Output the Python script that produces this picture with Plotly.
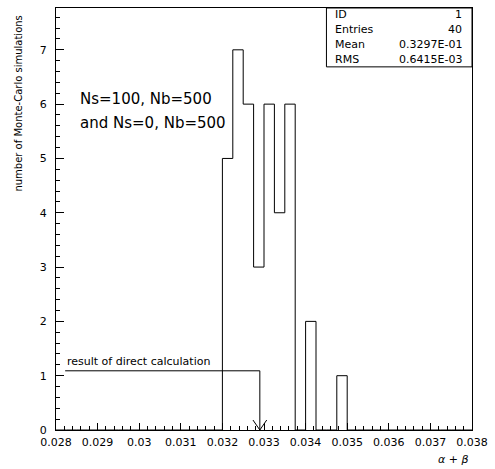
import plotly.graph_objects as go

# ---------------- data ----------------
bin_lo = 0.028
bin_width = 0.00025
counts = [0, 0, 0, 0, 0, 0, 0, 0, 0, 0,
          0, 0, 0, 0, 0, 0, 5, 7, 6, 3,
          6, 4, 6, 0, 2, 0, 0, 1, 0, 0,
          0, 0, 0, 0, 0, 0, 0, 0, 0, 0]
x_tick_vals = [0.028, 0.029, 0.030, 0.031, 0.032, 0.033, 0.034, 0.035, 0.036, 0.037, 0.038]
x_tick_text = ["0.028", "0.029", "0.03", "0.031", "0.032", "0.033", "0.034", "0.035", "0.036", "0.037", "0.038"]
y_tick_vals = [0, 1, 2, 3, 4, 5, 6, 7]
y_tick_text = ["0", "1", "2", "3", "4", "5", "6", "7"]
direct_result = 0.0329
arrow_level = 1.09
arrow_start = 0.02822
stats_labels = ["ID", "Entries", "Mean", "RMS"]
stats_values = ["1", "40", "0.3297E-01", "0.6415E-03"]

edges = [bin_lo + i * bin_width for i in range(len(counts) + 1)]

# ---------------- layout constants ----------------
W, H = 495, 469
ML, MR, MT, MB = 56, 16, 7, 39
PW, PH = W - ML - MR, H - MT - MB
XR = [0.028, 0.038]
YR = [0, 7.77]
px_x = (XR[1] - XR[0]) / PW  # data units per pixel
px_y = (YR[1] - YR[0]) / PH
FONT = "DejaVu Sans"

fig = go.Figure()

# histogram outline
fig.add_trace(go.Scatter(
    x=edges, y=counts + [counts[-1]], mode="lines",
    line=dict(color="black", width=1, shape="hv"),
    hoverinfo="skip", showlegend=False))

# direct calculation arrow
fig.add_trace(go.Scatter(
    x=[arrow_start, direct_result, direct_result],
    y=[arrow_level, arrow_level, 0], mode="lines",
    line=dict(color="black", width=1), hoverinfo="skip", showlegend=False))
fig.add_trace(go.Scatter(
    x=[direct_result - 7 * px_x, direct_result, direct_result + 7 * px_x],
    y=[10 * px_y, 0, 10 * px_y], mode="lines",
    line=dict(color="black", width=1), hoverinfo="skip", showlegend=False))

annotations = [
    dict(x=arrow_start, y=arrow_level, xref="x", yref="y", text="result of direct calculation",
         showarrow=False, xanchor="left", yanchor="bottom", yshift=1,
         font=dict(family=FONT, size=11, color="black")),
    dict(x=(78 - ML) / PW, y=(H - MB - 98) / PH, xref="paper", yref="paper",
         text="Ns=100, Nb=500", showarrow=False, xanchor="left", yanchor="middle",
         font=dict(family=FONT, size=15, color="black")),
    dict(x=(78 - ML) / PW, y=(H - MB - 122) / PH, xref="paper", yref="paper",
         text="and Ns=0, Nb=500", showarrow=False, xanchor="left", yanchor="middle",
         font=dict(family=FONT, size=15, color="black")),
    dict(x=(18 - ML) / PW, y=(H - MB - 13) / PH, xref="paper", yref="paper",
         text="number of Monte-Carlo simulations", textangle=-90, showarrow=False,
         xanchor="center", yanchor="top",
         font=dict(family=FONT, size=10, color="black")),
    dict(x=(478 - ML) / PW, y=(H - MB - 460) / PH, xref="paper", yref="paper",
         text="<i>α</i> + <i>β</i>", showarrow=False, xanchor="right", yanchor="middle",
         font=dict(family=FONT, size=11, color="black")),
]

row_y = [14, 28.8, 43.7, 58.5]
for lab, val, ry in zip(stats_labels, stats_values, row_y):
    yy = (H - MB - ry) / PH
    annotations.append(dict(x=(338 - ML) / PW, y=yy, xref="paper", yref="paper", text=lab,
                            showarrow=False, xanchor="left", yanchor="middle",
                            font=dict(family=FONT, size=11, color="black")))
    annotations.append(dict(x=(471 - ML) / PW, y=yy, xref="paper", yref="paper", text=val,
                            showarrow=False, xanchor="right", yanchor="middle",
                            font=dict(family=FONT, size=11, color="black")))

shapes = [dict(type="rect", xref="paper", yref="paper",
               x0=(331 - ML) / PW, x1=1, y0=(H - MB - 66) / PH, y1=1,
               line=dict(color="black", width=1), fillcolor="rgba(0,0,0,0)")]

fig.update_layout(
    width=W, height=H, margin=dict(l=ML, r=MR, t=MT, b=MB),
    paper_bgcolor="white", plot_bgcolor="white",
    annotations=annotations, shapes=shapes, showlegend=False,
    xaxis=dict(range=XR, showgrid=False, zeroline=False, showline=True, mirror=True,
               linecolor="black", linewidth=1, ticks="inside", ticklen=7, tickwidth=1,
               tickcolor="black", tickvals=x_tick_vals, ticktext=x_tick_text,
               tickfont=dict(family=FONT, size=11, color="black"), ticklabelstandoff=2,
               minor=dict(dtick=0.0002, tick0=0.028, ticks="inside", ticklen=4,
                          tickcolor="black", tickwidth=1, showgrid=False)),
    yaxis=dict(range=YR, showgrid=False, zeroline=False, showline=True, mirror=True,
               linecolor="black", linewidth=1, ticks="inside", ticklen=8, tickwidth=1,
               tickcolor="black", tickvals=y_tick_vals, ticktext=y_tick_text,
               tickfont=dict(family=FONT, size=11, color="black"), ticklabelstandoff=6,
               minor=dict(dtick=0.2, tick0=0, ticks="inside", ticklen=4,
                          tickcolor="black", tickwidth=1, showgrid=False)),
)

fig.write_html("out.html")
